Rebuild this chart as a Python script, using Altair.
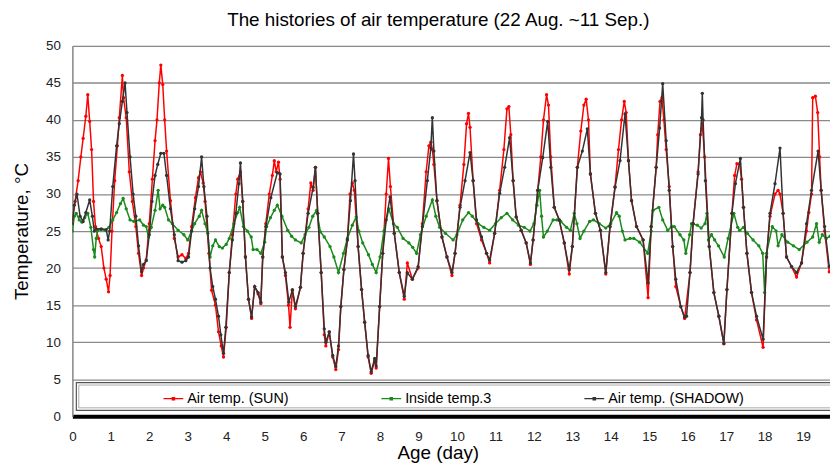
import altair as alt
import pandas as pd

# ---------------- data ----------------
series_names = ["Air temp. (SUN)", "Inside temp.3", "Air temp. (SHADOW)"]
series_colors = ["#ff0000", "#1a8a1a", "#333333"]

x_ticks = list(range(0, 20))
y_ticks = list(range(0, 51, 5))

sun_day = [0.00, 0.07, 0.15, 0.22, 0.28, 0.35, 0.40, 0.45, 0.50, 0.55, 0.60, 0.68, 0.75, 0.82, 0.88, 0.94, 0.98,
           1.03, 1.10, 1.17, 1.22, 1.30, 1.33, 1.40, 1.48, 1.56, 1.65, 1.72, 1.80, 1.85, 1.92,
           2.00, 2.08, 2.15, 2.20, 2.26, 2.30, 2.35, 2.40, 2.45, 2.55, 2.65, 2.75, 2.85, 2.95,
           3.02, 3.10, 3.20, 3.28, 3.33, 3.40, 3.45, 3.55, 3.62, 3.72, 3.80, 3.87, 3.93,
           4.00, 4.08, 4.16, 4.25, 4.30, 4.37, 4.43, 4.50, 4.58, 4.66, 4.74, 4.83, 4.90, 4.95,
           5.03, 5.12, 5.20, 5.25, 5.30, 5.36, 5.40, 5.46, 5.54, 5.62, 5.66, 5.72, 5.80, 5.93,
           6.00, 6.13, 6.20, 6.26, 6.32, 6.38, 6.47, 6.55, 6.59, 6.68, 6.77, 6.85, 6.92, 6.98,
           7.06, 7.15, 7.22, 7.28, 7.33, 7.43, 7.52, 7.60, 7.69, 7.77, 7.86, 7.90, 7.99,
           8.07, 8.16, 8.22, 8.27, 8.37, 8.50, 8.63, 8.71, 8.84, 8.99,
           9.10, 9.20, 9.27, 9.32, 9.36, 9.40, 9.48, 9.61, 9.74, 9.87, 9.95,
           10.08, 10.18, 10.25, 10.30, 10.34, 10.42, 10.51, 10.64, 10.77, 10.85, 10.98,
           11.11, 11.22, 11.30, 11.35, 11.40, 11.46, 11.54, 11.67, 11.80, 11.91, 11.98,
           12.10, 12.18, 12.25, 12.33, 12.38, 12.44, 12.53, 12.66, 12.79, 12.92, 13.00,
           13.13, 13.22, 13.30, 13.36, 13.42, 13.47, 13.60, 13.73, 13.87, 13.98,
           14.11, 14.20, 14.28, 14.35, 14.40, 14.46, 14.54, 14.67, 14.84, 14.97,
           15.05, 15.18, 15.22, 15.28, 15.33, 15.38, 15.44, 15.52, 15.61, 15.69, 15.82, 15.92,
           16.06, 16.14, 16.27, 16.33, 16.38, 16.44, 16.56, 16.68, 16.81, 16.94,
           17.02, 17.15, 17.22, 17.28, 17.35, 17.40, 17.45, 17.54, 17.66, 17.79, 17.96,
           18.05, 18.14, 18.27, 18.35, 18.40, 18.48, 18.57, 18.70, 18.83, 18.96,
           19.09, 19.15, 19.22, 19.25, 19.32, 19.38, 19.43, 19.47, 19.56, 19.68]
sun_temp = [26.5, 29.0, 31.8, 35.0, 37.5, 40.5, 43.4, 39.8, 36.0, 29.0, 25.6, 24.0, 22.9, 20.0, 18.5, 16.8, 19.0,
            25.0, 31.8, 36.5, 40.3, 46.0, 43.0, 40.3, 33.0, 29.0, 25.6, 22.0, 19.0, 20.0, 21.1,
            26.0, 32.0, 37.2, 40.0, 45.0, 47.4, 44.8, 40.0, 35.8, 29.1, 24.0, 21.5, 21.8, 21.3,
            22.0, 25.6, 29.5, 32.2, 33.0, 31.5, 29.0, 22.0, 17.0, 15.0, 11.4, 9.5, 8.0,
            12.0, 19.4, 24.5, 30.0, 32.0, 33.0, 29.0, 21.5, 15.8, 13.2, 17.5, 16.5, 15.2, 21.5,
            26.0, 30.0, 32.5, 34.5, 33.0, 34.3, 32.0, 21.5, 19.0, 15.0, 12.0, 17.0, 14.5, 17.4,
            22.0, 28.0, 31.5, 30.5, 33.6, 27.4, 19.4, 11.0, 9.5, 11.4, 8.0, 6.3, 9.0, 14.8,
            19.8, 23.8, 30.0, 31.5, 30.5, 22.9, 17.1, 12.7, 8.0, 5.8, 7.5, 6.5, 14.8,
            22.0, 30.0, 34.8, 31.0, 24.7, 19.4, 15.8, 20.7, 18.5, 20.0,
            26.0, 33.0, 36.5, 37.0, 36.0, 34.0, 29.1, 24.2, 21.5, 19.0, 22.0,
            28.5, 34.0, 39.5, 40.9, 39.0, 31.8, 26.0, 23.8, 22.0, 20.7, 24.7,
            30.5, 36.0, 41.5, 41.8, 38.0, 31.8, 26.9, 25.1, 23.4, 20.5, 23.8,
            30.5, 35.0, 40.0, 43.4, 42.0, 35.0, 28.2, 26.5, 23.4, 19.2, 22.9,
            33.6, 38.5, 42.0, 42.8, 40.0, 32.7, 27.4, 25.1, 19.2, 25.6,
            31.0, 36.0, 40.0, 42.5, 41.0, 34.5, 29.1, 25.6, 23.8, 16.0,
            25.6, 33.6, 38.0, 42.5, 43.0, 40.0, 36.0, 31.0, 22.9, 17.5, 14.8, 13.2,
            19.4, 26.0, 33.0, 38.0, 39.5, 35.0, 22.9, 16.7, 13.5, 9.8,
            17.1, 27.4, 32.5, 34.1, 34.1, 32.0, 28.2, 22.0, 16.7, 13.0, 9.3,
            21.5, 27.0, 30.0, 30.5, 30.0, 27.4, 21.5, 20.2, 18.8, 20.7,
            25.0, 27.5, 30.0, 43.0, 43.2, 41.0, 35.0, 30.5, 25.0, 19.5]

inside_day = [0.00, 0.05, 0.10, 0.18, 0.25, 0.32, 0.40, 0.48, 0.55, 0.58, 0.62, 0.66, 0.75, 0.85, 0.95,
              1.05, 1.15, 1.25, 1.32, 1.40, 1.50, 1.60, 1.75, 1.85, 1.92, 1.98,
              2.05, 2.15, 2.23, 2.28, 2.35, 2.40, 2.50, 2.60, 2.75, 2.90, 3.00,
              3.10, 3.18, 3.30, 3.36, 3.45, 3.52, 3.58, 3.65, 3.72, 3.82, 3.90,
              4.00, 4.08, 4.20, 4.30, 4.35, 4.45, 4.55, 4.65, 4.70, 4.80, 4.90,
              5.00, 5.05, 5.15, 5.25, 5.33, 5.45, 5.60, 5.70, 5.80, 5.95,
              6.05, 6.15, 6.25, 6.35, 6.45, 6.55, 6.70, 6.80, 6.92,
              7.05, 7.15, 7.28, 7.38, 7.45, 7.55, 7.70, 7.80, 7.90,
              8.00, 8.10, 8.23, 8.35, 8.45, 8.60, 8.75, 8.85, 8.95,
              9.05, 9.20, 9.36, 9.45, 9.55, 9.70, 9.90,
              10.00, 10.15, 10.30, 10.40, 10.55, 10.70, 10.85,
              11.00, 11.15, 11.30, 11.45, 11.60, 11.75, 11.90,
              12.00, 12.08, 12.15, 12.20, 12.25, 12.35, 12.50, 12.60, 12.70, 12.85, 12.95,
              13.05, 13.12, 13.20, 13.30, 13.45, 13.55, 13.70, 13.87,
              14.00, 14.15, 14.22, 14.30, 14.37, 14.50, 14.60, 14.75, 14.96,
              15.05, 15.10, 15.25, 15.35, 15.48, 15.58, 15.65, 15.80, 15.90, 15.95,
              16.05, 16.10, 16.25, 16.35, 16.45, 16.50, 16.54, 16.62, 16.70, 16.80, 16.95,
              17.05, 17.20, 17.30, 17.35, 17.45, 17.55, 17.70, 17.85, 17.95,
              18.00, 18.05, 18.20, 18.30, 18.35, 18.45, 18.60, 18.75, 18.90,
              19.10, 19.25, 19.35, 19.42, 19.50, 19.60, 19.70]
inside_temp = [25.0, 27.0, 27.4, 26.5, 26.2, 26.8, 27.4, 25.5, 22.5, 21.5, 24.0, 25.1, 25.2, 25.1, 25.5,
               26.5, 27.5, 28.7, 29.4, 28.0, 26.5, 26.3, 26.5, 25.8, 25.6, 24.2,
               25.5, 27.8, 30.5, 28.0, 28.5, 28.2, 26.5, 26.0, 25.1, 24.5, 23.8,
               25.0, 26.0, 27.0, 27.8, 26.0, 24.7, 21.5, 23.0, 23.8, 22.9, 22.7,
               23.2, 24.0, 26.0, 27.5, 28.2, 25.6, 25.0, 24.2, 22.5, 22.5, 22.0,
               23.5, 25.6, 26.8, 27.8, 28.5, 27.0, 25.1, 24.3, 23.8, 23.4,
               24.5, 25.5, 27.0, 27.8, 24.9, 24.2, 22.9, 21.5, 19.4,
               22.0, 24.0, 25.8, 26.9, 25.0, 23.4, 21.8, 20.5, 19.4,
               21.5, 25.0, 28.0, 26.0, 25.5, 24.0, 23.4, 22.8, 22.0,
               24.5, 27.0, 29.2, 27.0, 25.5, 24.7, 23.8,
               24.5, 26.5, 27.5, 27.0, 26.0, 25.5, 25.1,
               26.0, 26.8, 27.4, 26.5, 25.8, 25.5, 25.0,
               26.0, 28.5, 30.5, 27.0, 24.2, 25.0, 26.5, 26.5, 26.3, 25.5, 25.1,
               27.4, 26.0, 24.0, 25.0, 26.3, 26.5, 26.0, 25.4,
               26.0, 27.5, 27.0, 25.0, 23.8, 24.0, 24.0, 23.5, 22.0,
               25.0, 27.8, 28.2, 26.5, 25.1, 25.6, 25.6, 24.5, 23.8, 22.0,
               24.5, 26.0, 25.8, 25.4, 26.0, 27.4, 23.8, 24.5, 23.8, 23.0, 21.5,
               24.0, 27.4, 25.5, 25.1, 25.5, 24.7, 23.8, 23.0, 22.0,
               16.7, 22.0, 25.6, 25.0, 23.0, 24.5, 23.5, 23.0, 22.5,
               23.5, 24.2, 26.0, 23.5, 24.5, 24.0, 24.3]

shadow_day = [0.00, 0.05, 0.12, 0.20, 0.28, 0.35, 0.45, 0.52, 0.57, 0.62, 0.75, 0.88, 0.93, 0.97,
              1.05, 1.15, 1.22, 1.30, 1.37, 1.42, 1.50, 1.58, 1.65, 1.72, 1.80, 1.85, 1.92,
              2.00, 2.07, 2.15, 2.22, 2.30, 2.38, 2.45, 2.55, 2.65, 2.75, 2.85, 2.95,
              3.02, 3.10, 3.18, 3.28, 3.36, 3.42, 3.50, 3.58, 3.65, 3.72, 3.80, 3.86, 3.93,
              3.99, 4.08, 4.16, 4.25, 4.33, 4.37, 4.43, 4.50, 4.58, 4.66, 4.74, 4.83, 4.90, 4.95,
              5.03, 5.16, 5.33, 5.40, 5.46, 5.54, 5.63, 5.72, 5.80, 5.93,
              6.00, 6.13, 6.26, 6.32, 6.38, 6.47, 6.55, 6.59, 6.68, 6.77, 6.85, 6.92, 6.98,
              7.06, 7.15, 7.23, 7.31, 7.35, 7.43, 7.52, 7.60, 7.69, 7.77, 7.86, 7.90, 7.99,
              8.07, 8.16, 8.26, 8.37, 8.50, 8.63, 8.71, 8.84, 8.99,
              9.10, 9.23, 9.32, 9.36, 9.40, 9.48, 9.61, 9.74, 9.87, 9.95,
              10.08, 10.21, 10.34, 10.42, 10.51, 10.64, 10.77, 10.85, 10.98,
              11.11, 11.24, 11.37, 11.46, 11.54, 11.67, 11.80, 11.91, 11.98,
              12.10, 12.23, 12.36, 12.44, 12.53, 12.66, 12.79, 12.92, 13.00,
              13.13, 13.26, 13.39, 13.47, 13.60, 13.73, 13.87, 13.98,
              14.11, 14.24, 14.37, 14.46, 14.54, 14.67, 14.84, 14.97,
              15.05, 15.18, 15.27, 15.35, 15.44, 15.52, 15.61, 15.69, 15.82, 15.92, 15.97,
              16.06, 16.14, 16.27, 16.36, 16.38, 16.40, 16.46, 16.56, 16.68, 16.81, 16.94,
              17.02, 17.15, 17.24, 17.37, 17.45, 17.54, 17.66, 17.79, 17.96,
              18.05, 18.14, 18.27, 18.40, 18.48, 18.57, 18.70, 18.83, 18.96,
              19.09, 19.22, 19.39, 19.47, 19.56, 19.68]
shadow_temp = [26.0, 28.5, 30.0, 27.0, 26.3, 27.5, 29.2, 27.0, 25.0, 25.3, 25.3, 25.2, 23.8, 25.0,
               31.0, 36.5, 39.5, 42.5, 45.0, 41.0, 35.0, 30.0, 27.0, 23.0, 19.5, 20.5, 21.0,
               24.5, 29.0, 32.5, 34.0, 35.5, 35.5, 32.5, 28.0, 24.5, 21.0, 20.8, 21.0,
               21.5, 25.0, 28.0, 31.0, 35.0, 31.0, 27.0, 20.0, 17.5, 15.8, 13.5, 11.0, 8.5,
               12.0, 19.4, 23.8, 27.4, 31.4, 34.2, 29.0, 21.5, 15.8, 13.4, 17.5, 16.7, 15.4, 21.5,
               25.6, 29.5, 32.9, 32.7, 21.5, 19.4, 15.4, 17.1, 14.8, 17.4,
               22.0, 27.4, 30.9, 33.6, 27.4, 19.4, 11.8, 10.0, 11.4, 8.2, 6.7, 9.5, 14.8,
               19.8, 23.8, 29.1, 35.4, 31.8, 22.9, 17.1, 12.7, 8.2, 6.0, 7.8, 6.8, 14.8,
               22.0, 26.5, 29.6, 24.7, 19.4, 16.2, 19.4, 18.5, 20.2,
               25.6, 31.8, 36.2, 40.3, 35.8, 29.1, 24.2, 21.5, 19.4, 22.0,
               28.2, 31.8, 35.6, 31.8, 26.5, 24.2, 22.0, 21.1, 24.7,
               30.1, 33.6, 37.6, 31.8, 26.9, 25.1, 23.4, 20.7, 23.8,
               30.5, 34.9, 39.8, 33.6, 28.2, 26.5, 23.4, 19.8, 22.9,
               33.6, 35.8, 38.8, 32.7, 27.4, 25.1, 19.4, 25.6,
               30.9, 34.5, 40.8, 34.5, 29.1, 25.6, 23.8, 18.0,
               25.6, 33.6, 38.9, 44.9, 37.2, 30.5, 22.9, 18.5, 14.8, 13.4, 13.5,
               19.4, 26.0, 32.7, 40.3, 43.6, 40.0, 31.8, 22.9, 16.7, 13.5, 9.8,
               17.1, 27.4, 31.4, 34.8, 28.2, 22.0, 16.7, 13.5, 10.4,
               21.5, 27.4, 31.4, 36.2, 27.4, 21.5, 20.2, 19.4, 20.7,
               26.0, 30.5, 35.8, 30.5, 25.6, 20.2]

# ---------------- tables ----------------
df_sun = pd.DataFrame({"day": sun_day, "temp": sun_temp, "series": series_names[0]})
df_inside = pd.DataFrame({"day": inside_day, "temp": inside_temp, "series": series_names[1]})
df_shadow = pd.DataFrame({"day": shadow_day, "temp": shadow_temp, "series": series_names[2]})

FONT = "Liberation Sans"
W, H = 765, 374

x_enc = alt.X("day:Q",
              scale=alt.Scale(domain=[0, 19.7], nice=False, zero=False),
              axis=alt.Axis(values=x_ticks, title="Age (day)", grid=False, ticks=False,
                            domainColor="#000000", domainWidth=4,
                            labelFont=FONT, labelFontSize=13.5, labelColor="#222222",
                            labelPadding=13, labelFlush=False,
                            titleFont=FONT, titleFontSize=19, titleFontWeight="normal",
                            titleColor="#000000", titleX=369, titleY=37,
                            titleBaseline="middle", titleAlign="center"))
y_enc = alt.Y("temp:Q",
              scale=alt.Scale(domain=[0, 50], nice=False),
              axis=alt.Axis(values=y_ticks, title="Temperature, °C", grid=True,
                            gridColor="#8a8a8a", gridWidth=1.3, ticks=False,
                            domainColor="#8a8a8a", domainWidth=1.5,
                            labelFont=FONT, labelFontSize=13.5, labelColor="#222222",
                            labelPadding=12,
                            titleFont=FONT, titleFontSize=19, titleFontWeight="normal",
                            titleColor="#000000", titleX=-51, titleY=187,
                            titleAngle=-90, titleBaseline="middle", titleAlign="center"))
color_enc = alt.Color("series:N",
                      scale=alt.Scale(domain=series_names, range=series_colors),
                      legend=alt.Legend(title=None, orient="none", direction="horizontal",
                                        legendX=91, legendY=345, padding=0,
                                        columnPadding=90,
                                        symbolType="M-1,0H1M-0.12,-0.12H0.12V0.12H-0.12Z",
                                        symbolSize=400, symbolStrokeWidth=1.2,
                                        labelFont=FONT, labelFontSize=14.5,
                                        labelColor="#000000", labelOffset=3))

# legend frame (decoration)
frame_outer = alt.Chart(pd.DataFrame({"k": [0]})).mark_rect(
    fill="white", stroke="#555555", strokeWidth=1.2).encode(
    x=alt.value(4), x2=alt.value(800), y=alt.value(340), y2=alt.value(368))
frame_inner = alt.Chart(pd.DataFrame({"k": [0]})).mark_rect(
    fill="white", stroke="#aaaaaa", strokeWidth=1).encode(
    x=alt.value(6.5), x2=alt.value(800), y=alt.value(342.5), y2=alt.value(365.5))


def series_layer(df):
    return alt.Chart(df).mark_line(
        strokeWidth=1.5, clip=True,
        point=alt.OverlayMarkDef(size=11, filled=True, clip=True)
    ).encode(x=x_enc, y=y_enc, color=color_enc, order="day:Q")


chart = alt.layer(
    frame_outer, frame_inner,
    series_layer(df_sun), series_layer(df_inside), series_layer(df_shadow)
).properties(
    width=W, height=H,
    title=alt.TitleParams("The histories of air temperature (22 Aug. ~11 Sep.)",
                          font=FONT, fontSize=19, fontWeight="normal", color="#000000",
                          anchor="middle", dx=-13, offset=9),
    autosize=alt.AutoSizeParams(type="none"),
    padding={"left": 65, "top": 36, "right": 0, "bottom": 48},
).configure_view(stroke=None).configure(background="white")

chart.save("out.html", embed_options={"renderer": "svg", "actions": False})
